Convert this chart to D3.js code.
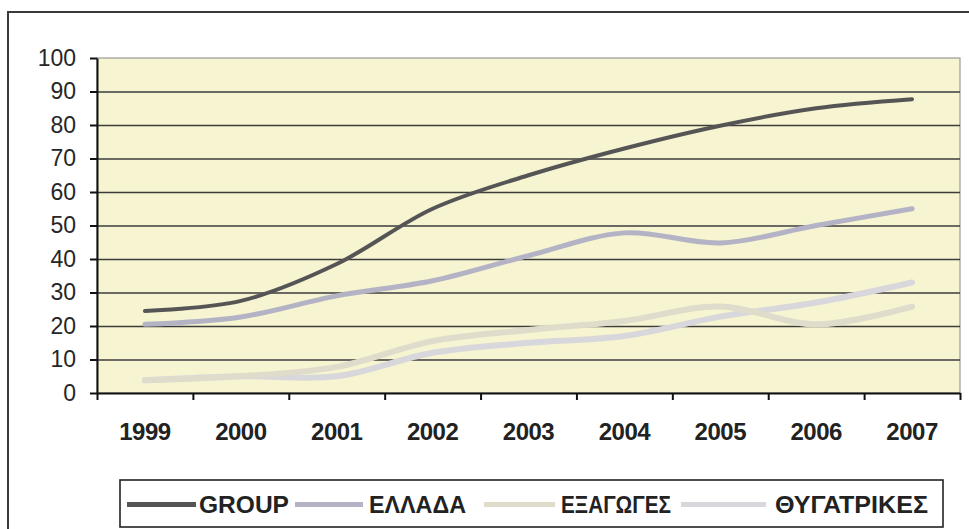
<!DOCTYPE html>
<html>
<head>
<meta charset="utf-8">
<script src="https://cdn.jsdelivr.net/npm/d3@7"></script>
<style>
  html, body { margin: 0; padding: 0; background: #fff; }
  svg { display: block; }
  text { font-family: "Liberation Sans", Arial, sans-serif; fill: #222; }
</style>
</head>
<body>
<svg id="chart" width="969" height="529"></svg>
<script>
// Years on the category axis
const years = ["1999", "2000", "2001", "2002", "2003", "2004", "2005", "2006", "2007"];

// Series values (percent)
const groupValues      = [24.5, 27.5, 38.5, 55, 65, 73, 79.8, 85, 87.7];
const elladaValues     = [20.5, 22.7, 29, 33.5, 41, 47.8, 44.8, 50, 55];
const exagogesValues   = [3.8, 5, 7.8, 15.5, 18.8, 21.5, 25.8, 20.5, 25.8];
const thygatrikesValues= [3.8, 5, 5, 12, 15, 17, 22.8, 27, 33];

const seriesNames  = ["GROUP", "ΕΛΛΑΔΑ", "ΕΞΑΓΩΓΕΣ", "ΘΥΓΑΤΡΙΚΕΣ"];
const seriesValues = [groupValues, elladaValues, exagogesValues, thygatrikesValues];

// Value-axis ticks
const yTicks = [0, 10, 20, 30, 40, 50, 60, 70, 80, 90, 100];

const seriesStyle = [
  { color: "#555555", width: 4 },
  { color: "#b3b3c5", width: 5 },
  { color: "#dfdccb", width: 6 },
  { color: "#d8d8dc", width: 6 }
];

const svg = d3.select("#chart");

// Outer chart frame
svg.append("rect")
  .attr("x", 8).attr("y", 12)
  .attr("width", 990).attr("height", 560)
  .attr("fill", "none").attr("stroke", "#3a3a3a").attr("stroke-width", 2);

const plot = { left: 97, right: 960, top: 58, bottom: 393 };

const x = d3.scaleBand().domain(years).range([plot.left, plot.right]).padding(0);
const xEdge = d3.scaleLinear().domain([0, years.length]).range([plot.left, plot.right]);
const y = d3.scaleLinear().domain([0, 100]).range([plot.bottom, plot.top]);
const cx = d => x(d) + x.bandwidth() / 2;

// Plot background
svg.append("rect")
  .attr("x", plot.left).attr("y", plot.top)
  .attr("width", plot.right - plot.left).attr("height", plot.bottom - plot.top)
  .attr("fill", "#f6f4d1")
  .attr("stroke", "#9a9a9a").attr("stroke-width", 1.2);

// Horizontal gridlines
const grid = svg.append("g")
  .attr("transform", `translate(${plot.left},0)`)
  .call(d3.axisLeft(y)
    .tickValues(yTicks.filter(v => v > 0 && v < 100))
    .tickSize(-(plot.right - plot.left))
    .tickFormat(""));
grid.select(".domain").remove();
grid.selectAll(".tick line").attr("stroke", "#3c3c3c").attr("stroke-width", 1.6);

// Value axis
const yAxis = svg.append("g")
  .attr("transform", `translate(${plot.left},0)`)
  .call(d3.axisLeft(y).tickValues(yTicks).tickSize(7).tickPadding(14).tickSizeOuter(0));
yAxis.select(".domain").attr("stroke", "#111").attr("stroke-width", 2);
yAxis.selectAll(".tick line").attr("stroke", "#111").attr("stroke-width", 2);
yAxis.selectAll(".tick text")
  .style("font-size", "23px").style("fill", "#262626");

// Category axis: tick marks between categories
const xTickAxis = svg.append("g")
  .attr("transform", `translate(0,${plot.bottom})`)
  .call(d3.axisBottom(xEdge).tickValues(d3.range(0, years.length + 1)).tickSize(7).tickFormat("").tickSizeOuter(0));
xTickAxis.select(".domain").attr("stroke", "#111").attr("stroke-width", 2);
xTickAxis.selectAll(".tick line").attr("stroke", "#111").attr("stroke-width", 2);

// Category axis labels
const xLabelAxis = svg.append("g")
  .attr("transform", `translate(0,${plot.bottom})`)
  .call(d3.axisBottom(x).tickSize(0).tickPadding(30));
xLabelAxis.select(".domain").remove();
xLabelAxis.selectAll(".tick text")
  .style("font-size", "24px").style("font-weight", "bold").style("fill", "#222")
  .style("letter-spacing", "-0.5px");

// Series lines
const line = d3.line()
  .x((d, i) => cx(years[i]))
  .y(d => y(d))
  .curve(d3.curveCatmullRom.alpha(0.5));

const order = [3, 2, 1, 0];
order.forEach(i => {
  svg.append("path")
    .datum(seriesValues[i])
    .attr("d", line)
    .attr("fill", "none")
    .attr("stroke", seriesStyle[i].color)
    .attr("stroke-width", seriesStyle[i].width)
    .attr("stroke-linecap", "round")
    .attr("stroke-linejoin", "round");
});

// Legend: swatch extents, label start and label width for each entry
const legend = { x: 120, y: 480, w: 823, h: 47 };
svg.append("rect")
  .attr("x", legend.x).attr("y", legend.y)
  .attr("width", legend.w).attr("height", legend.h)
  .attr("fill", "#fff").attr("stroke", "#222").attr("stroke-width", 1.6);

const legendItems = [
  { sw0: 127, sw1: 196, tx: 199, tw: 90 },
  { sw0: 295, sw1: 363, tx: 369, tw: 97 },
  { sw0: 484, sw1: 555, tx: 561, tw: 110 },
  { sw0: 681, sw1: 766, tx: 775, tw: 153 }
];
const ly = legend.y + legend.h / 2 + 1;
legendItems.forEach((it, i) => {
  svg.append("line")
    .attr("x1", it.sw0).attr("x2", it.sw1)
    .attr("y1", ly).attr("y2", ly)
    .attr("stroke", seriesStyle[i].color)
    .attr("stroke-width", 5);
  svg.append("text")
    .attr("x", it.tx).attr("y", ly)
    .attr("dy", "0.36em")
    .attr("textLength", it.tw)
    .attr("lengthAdjust", "spacingAndGlyphs")
    .style("font-size", "24px").style("font-weight", "bold")
    .text(seriesNames[i]);
});
</script>
</body>
</html>
